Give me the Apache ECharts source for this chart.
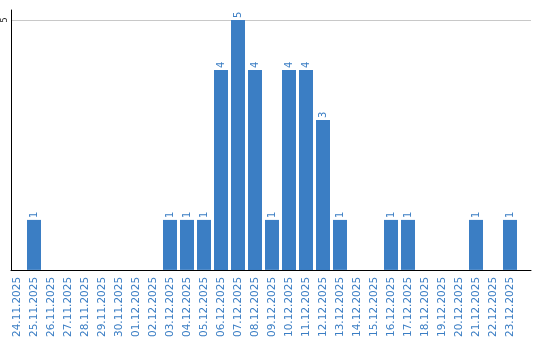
<!DOCTYPE html>
<html><head><meta charset="utf-8">
<script src="https://cdn.jsdelivr.net/npm/echarts@6/dist/echarts.min.js"></script>
<style>html,body{margin:0;padding:0;background:#fff}#c{width:540px;height:340px}</style>
</head><body><div id="c"></div>
<script>
var categories = ["24.11.2025","25.11.2025","26.11.2025","27.11.2025","28.11.2025","29.11.2025","30.11.2025","01.12.2025","02.12.2025","03.12.2025","04.12.2025","05.12.2025","06.12.2025","07.12.2025","08.12.2025","09.12.2025","10.12.2025","11.12.2025","12.12.2025","13.12.2025","14.12.2025","15.12.2025","16.12.2025","17.12.2025","18.12.2025","19.12.2025","20.12.2025","21.12.2025","22.12.2025","23.12.2025"];
var values = [0,1,0,0,0,0,0,0,0,1,1,1,4,5,4,1,4,4,3,1,0,0,1,1,0,0,0,1,0,1];
var yTicks = [5];
var blue = '#3b7ec4';
var chart = echarts.init(document.getElementById('c'));
chart.setOption({
  animation:false,
  grid:[
    {left:11,right:9,top:10,bottom:70},
    {left:8.5,width:510,top:10,bottom:70}
  ],
  xAxis:[
    {gridIndex:0,type:'value',min:0,max:1,axisLine:{show:true,lineStyle:{color:'#000',width:1}},axisTick:{show:false},axisLabel:{show:false},splitLine:{show:false}},
    {gridIndex:1,type:'category',data:categories,axisLine:{show:false},axisTick:{show:false},
     axisLabel:{rotate:90,interval:0,color:blue,fontFamily:'DejaVu Sans',fontSize:10.5,margin:7}}
  ],
  yAxis:[
    {gridIndex:0,type:'value',min:0,max:5.2,interval:5,axisLine:{show:true,lineStyle:{color:'#000',width:1}},axisTick:{show:false},
     splitLine:{show:true,showMaxLine:false,showMinLine:false,lineStyle:{color:'#c8c8c8',width:1}},
     axisLabel:{rotate:90,color:'#222',fontFamily:'DejaVu Sans',fontSize:8,margin:2,showMaxLabel:false,formatter:function(v){return yTicks.indexOf(v)>=0?String(v):'';}}},
    {gridIndex:1,type:'value',min:0,max:5.2,show:false}
  ],
  series:[{
    type:'bar',xAxisIndex:1,yAxisIndex:1,data:values.map(function(v){return v===0?null:v;}),barWidth:14,
    itemStyle:{color:blue},
    label:{show:true,position:'top',rotate:90,align:'left',verticalAlign:'middle',distance:2,color:blue,fontFamily:'DejaVu Sans',fontSize:10}
  }]
});
</script></body></html>
